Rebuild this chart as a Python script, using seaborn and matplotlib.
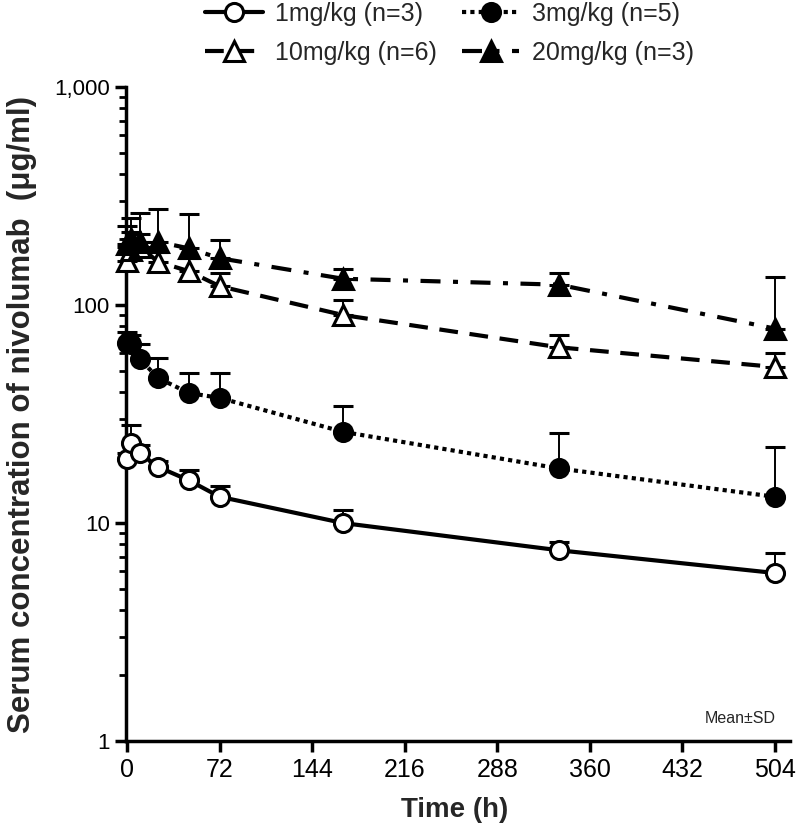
import numpy as np
import matplotlib
matplotlib.use("Agg")
import matplotlib.pyplot as plt
from matplotlib.ticker import LogLocator, NullFormatter, FixedLocator, FixedFormatter
import seaborn as sns

# sampling times (h) and mean / upper SD for each dose group
time_h = [0, 3, 10, 24, 48, 72, 168, 336, 504]

mean_1 = [19.7, 23.3, 20.9, 18.1, 15.7, 13.2, 10.0, 7.5, 5.9]
sd_1 = [1.3, 4.9, 1.9, 1.1, 1.8, 1.6, 1.5, 0.7, 1.4]

mean_3 = [67.0, 66.0, 56.5, 46.3, 39.5, 37.5, 26.2, 17.8, 13.2]
sd_3 = [8.2, 7.0, 9.8, 10.8, 9.3, 11.3, 8.2, 8.0, 9.2]

mean_10 = [160, 178, 185, 158, 143, 122, 90, 64, 52]
sd_10 = [25, 38, 27, 18, 22, 18, 16, 9, 8]

mean_20 = [190, 200, 195, 195, 182, 164, 132, 124, 78]
sd_20 = [40, 50, 69, 80, 80, 35, 14, 16, 56]

labels = ["1mg/kg (n=3)", "3mg/kg (n=5)", "10mg/kg (n=6)", "20mg/kg (n=3)"]
x_ticks = [0, 72, 144, 216, 288, 360, 432, 504]
y_ticks = [1, 10, 100, 1000]
y_ticklabels = ["1", "10", "100", "1,000"]

sns.set_theme(style="ticks")
plt.rcParams["font.family"] = ["Liberation Sans", "DejaVu Sans"]

fig = plt.figure(figsize=(7.99, 8.33), dpi=100)
ax = fig.add_axes([0.1583, 0.1104, 0.8307, 0.7851])

styles = [
    dict(ls="-", marker="o", fc="white", ms=13),
    dict(ls=(0, (1.0, 1.0)), marker="o", fc="black", ms=13),
    dict(ls=(0, (4.5, 2.8)), marker="^", fc="white", ms=14),
    dict(ls=(0, (4.8, 3.0, 1.2, 3.0)), marker="^", fc="black", ms=14),
]
means = [mean_1, mean_3, mean_10, mean_20]
sds = [sd_1, sd_3, sd_10, sd_20]

handles = []
for m, s, st, lab in zip(means, sds, styles, labels):
    # upper SD only
    ax.errorbar(time_h, m, yerr=[np.zeros(len(s)), s], fmt="none",
                ecolor="black", elinewidth=1.4, capsize=7, capthick=2.2,
                zorder=2, clip_on=False)
    sns.lineplot(x=time_h, y=m, ax=ax, color="black", linewidth=3,
                 linestyle=st["ls"], marker=st["marker"], markersize=st["ms"],
                 markerfacecolor=st["fc"], markeredgecolor="black",
                 markeredgewidth=2.2, label=lab, errorbar=None,
                 zorder=3, clip_on=False)
    handles.append(ax.lines[-1])

ax.set_yscale("log")
ax.set_ylim(1, 1000)
ax.set_xlim(-0.5, 516)
ax.yaxis.set_major_locator(FixedLocator(y_ticks))
ax.yaxis.set_major_formatter(FixedFormatter(y_ticklabels))
ax.yaxis.set_minor_locator(LogLocator(base=10, subs=np.arange(2, 10)))
ax.yaxis.set_minor_formatter(NullFormatter())
ax.set_xticks(x_ticks)

for side in ["top", "right"]:
    ax.spines[side].set_visible(False)
for side in ["left", "bottom"]:
    ax.spines[side].set_linewidth(2.5)
    ax.spines[side].set_color("black")

ax.tick_params(axis="both", which="major", direction="out", length=8,
               width=2.5, color="black", labelcolor="black")
ax.tick_params(axis="y", which="minor", direction="out", length=5,
               width=2, color="black")
ax.tick_params(axis="y", labelsize=16, pad=4)
ax.tick_params(axis="x", labelsize=18, pad=4)
for t in ax.get_xticklabels():
    t.set_family(["Liberation Sans Narrow", "Liberation Sans"])

ax.set_xlabel("Time (h)", fontsize=20, fontweight="bold")
ax.set_ylabel("Serum concentration of nivolumab  (μg/ml)", fontsize=22.5,
              fontweight="bold")
ax.xaxis.set_label_coords(0.495, -0.085)
ax.yaxis.set_label_coords(-0.135, 0.5)

ax.text(0.925, 0.035, "Mean±SD", transform=ax.transAxes, ha="center",
        va="center", fontsize=11.5)

order = [0, 2, 1, 3]
leg = ax.legend([handles[i] for i in order], [labels[i] for i in order],
                ncol=2, fontsize=18, handlelength=2.3, handletextpad=0.5,
                columnspacing=1.0, labelspacing=0.6, borderpad=0,
                borderaxespad=0, frameon=False, loc="upper left",
                bbox_to_anchor=(205 / 799, 1 - 2 / 833),
                bbox_transform=fig.transFigure)

fig.savefig("out.png", dpi=100)
